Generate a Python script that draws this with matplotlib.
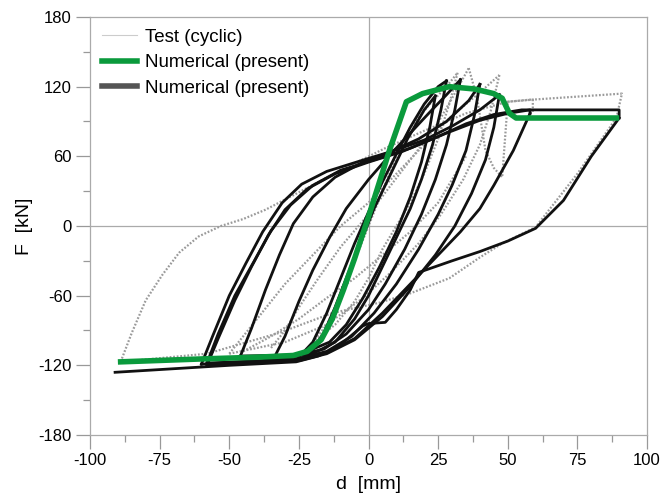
import matplotlib
matplotlib.use("Agg")
import matplotlib.pyplot as plt
from matplotlib.ticker import MultipleLocator

plt.rcParams['font.family'] = ['Liberation Sans', 'DejaVu Sans']
plt.rcParams['axes.unicode_minus'] = False

# --- numerical monotonic curve (green) ---
green_d = [-89, -60, -40, -27, -22, -17, -13, -9, -5, 0, 7.5, 13.6, 19.4, 29, 38, 45, 48, 50.6, 53, 89]
green_F = [-117, -114.5, -113, -111.5, -108, -98, -80, -55, -28, 8, 65, 107, 114, 120, 118, 114, 110, 97, 93, 93]

# --- numerical cyclic branches (black) ---
num_branches = [
    # loading branches
    ([-25, -20, -15, -10, -5, 0, 5, 10, 15, 20, 25, 28],
     [-113, -100, -75, -45, -15, 12, 38, 62, 85, 105, 120, 125]),
    ([-34, -30, -25, -20, -14, -8, 0, 8, 15, 22, 28, 33],
     [-114, -95, -65, -38, -10, 15, 40, 62, 80, 98, 113, 126]),
    ([-46, -42, -37, -32, -27, -20, -12, -2, 8, 18, 28, 36, 40],
     [-112, -88, -55, -25, 2, 25, 42, 55, 64, 75, 90, 108, 122]),
    ([-60, -56, -50, -44, -38, -31, -24, -15, -3, 8, 20, 30, 40, 47],
     [-119, -95, -60, -32, -5, 20, 36, 47, 56, 64, 74, 86, 100, 113]),
    ([-58, -54, -48, -42, -36, -30, -22, -12, 0, 12, 25, 35, 45, 55, 90, 90],
     [-120, -97, -64, -35, -8, 14, 32, 45, 55, 64, 77, 88, 96, 100, 100, 93]),
    ([-58, -54, -48, -41, -35, -28, -20, -10, 2, 15, 28, 40, 50, 58, 58],
     [-118, -93, -60, -30, -4, 18, 35, 48, 57, 67, 80, 91, 97, 100, 97]),
    ([-20, -16, -12, -8, -3, 2, 8, 14, 20, 24],
     [-106, -92, -70, -45, -15, 15, 45, 75, 100, 112]),
    # unloading branches
    ([28, 26, 23, 19, 15, 10, 5, 0, -5, -12, -20, -34],
     [125, 100, 70, 40, 15, -10, -35, -60, -80, -100, -110, -114]),
    ([33, 31, 28, 24, 19, 13, 6, 0, -8, -16, -25, -46],
     [126, 100, 70, 40, 10, -20, -50, -72, -93, -106, -111, -112]),
    ([40, 38, 35, 30, 25, 18, 10, 2, -6, -15, -25, -60],
     [122, 95, 65, 35, 10, -20, -50, -75, -95, -108, -114, -119]),
    ([47, 45, 42, 37, 31, 24, 15, 5, -5, -15, -25, -58],
     [113, 85, 57, 28, 0, -25, -52, -78, -98, -110, -116, -120]),
    ([58, 52, 45, 40, 33, 25, 15, 5, -5, -15, -25, -58],
     [97, 65, 35, 15, -5, -25, -50, -75, -97, -109, -115, -118]),
    ([24, 22, 19, 15, 10, 4, -2, -8, -14, -20],
     [112, 85, 55, 25, -5, -35, -62, -85, -100, -106]),
    # envelope unloading from 90 mm
    ([90, 80, 70, 60, 50, 40, 30, 18, 15, 10, 6, 0, -2, -5, -11, -18, -26, -50, -91],
     [93, 60, 22, -2, -13, -22, -30, -40, -55, -72, -83, -84, -86, -92, -104, -112, -117, -120, -126]),
]

# --- test cyclic branches (grey dotted) ---
test_branches = [
    # outer cycle
    ([-89, -85, -80, -74, -68, -61, -53, -45, -37, -25, -10, 6, 20, 35, 50, 60, 91, 89],
     [-117, -92, -64, -42, -23, -9, 0, 6, 14, 29, 48, 67, 82, 97, 107, 109, 114, 93]),
    ([89, 75, 60, 48, 40, 29, 15, 4, -13, -32, -58, -89],
     [93, 45, -1, -15, -27, -45, -58, -66, -75, -92, -110, -117]),
    # inner cycles
    ([-20, -15, -10, -5, 0, 5, 10, 15, 22, 28, 32],
     [-100, -85, -60, -30, 0, 30, 60, 85, 105, 120, 132]),
    ([32, 29, 25, 20, 15, 10, 5, 0, -5, -12, -20],
     [132, 105, 75, 45, 20, 0, -20, -45, -65, -85, -100]),
    ([-35, -30, -25, -18, -10, 0, 8, 16, 24, 30, 36],
     [-105, -90, -70, -45, -18, 10, 35, 60, 85, 110, 136]),
    ([36, 39, 42, 45, 48, 50, 59, 59],
     [136, 110, 65, 50, 42, 107, 109, 97]),
    ([-50, -40, -30, -20, -10, 0, 10, 20, 30, 40, 47],
     [-110, -80, -50, -25, 0, 20, 45, 70, 95, 115, 130]),
    ([47, 44, 40, 34, 26, 18, 8, -2, -15, -30, -50],
     [130, 100, 70, 40, 10, -15, -40, -62, -85, -100, -110]),
    ([-45, -35, -25, -15, -5, 5, 15, 25, 35],
     [-108, -95, -80, -62, -45, -25, -5, 20, 60]),
]

fig = plt.figure(figsize=(6.6, 4.98), dpi=100)
ax = fig.add_axes([0.1364, 0.1265, 0.8439, 0.8394])

ax.axhline(0, color='#aaaaaa', lw=0.9, zorder=0)
ax.axvline(0, color='#aaaaaa', lw=0.9, zorder=0)

for d, F in test_branches:
    ax.plot(d, F, color='#9a9a9a', lw=1.6, ls=(0, (0.8, 0.8)), zorder=1)
for d, F in num_branches:
    ax.plot(d, F, color='#111111', lw=2.0, zorder=2, solid_joinstyle='round')
ax.plot(green_d, green_F, color='#0a9a3c', lw=4.0, zorder=3, solid_joinstyle='round')

# legend proxies
ax.plot([], [], color='#cccccc', lw=0.8, label='Test (cyclic)')
ax.plot([], [], color='#0a9a3c', lw=4.0, label='Numerical (present)')
ax.plot([], [], color='#555555', lw=4.0, label='Numerical (present)')
h, l = ax.get_legend_handles_labels()
ax.legend(h, l, loc='upper left', bbox_to_anchor=(0.0, 1.0), frameon=False,
          fontsize=13.5, handlelength=1.87, handletextpad=0.43, labelspacing=0.45,
          borderaxespad=0.0, borderpad=0.62)

ax.set_xlim(-100, 100)
ax.set_ylim(-180, 180)
ax.xaxis.set_major_locator(MultipleLocator(25))
ax.xaxis.set_minor_locator(MultipleLocator(12.5))
ax.yaxis.set_major_locator(MultipleLocator(60))
ax.yaxis.set_minor_locator(MultipleLocator(30))
ax.tick_params(which='major', direction='out', length=10, width=0.9, color='#999999',
               labelsize=12, pad=3)
ax.tick_params(which='minor', direction='out', length=5, width=0.9, color='#999999')
for s in ax.spines.values():
    s.set_color('#aaaaaa')
    s.set_linewidth(0.9)

ax.set_xlabel('d  [mm]', fontsize=14, labelpad=6)
ax.set_ylabel('F  [kN]', fontsize=14, labelpad=4)

fig.savefig('out.png', dpi=100)
